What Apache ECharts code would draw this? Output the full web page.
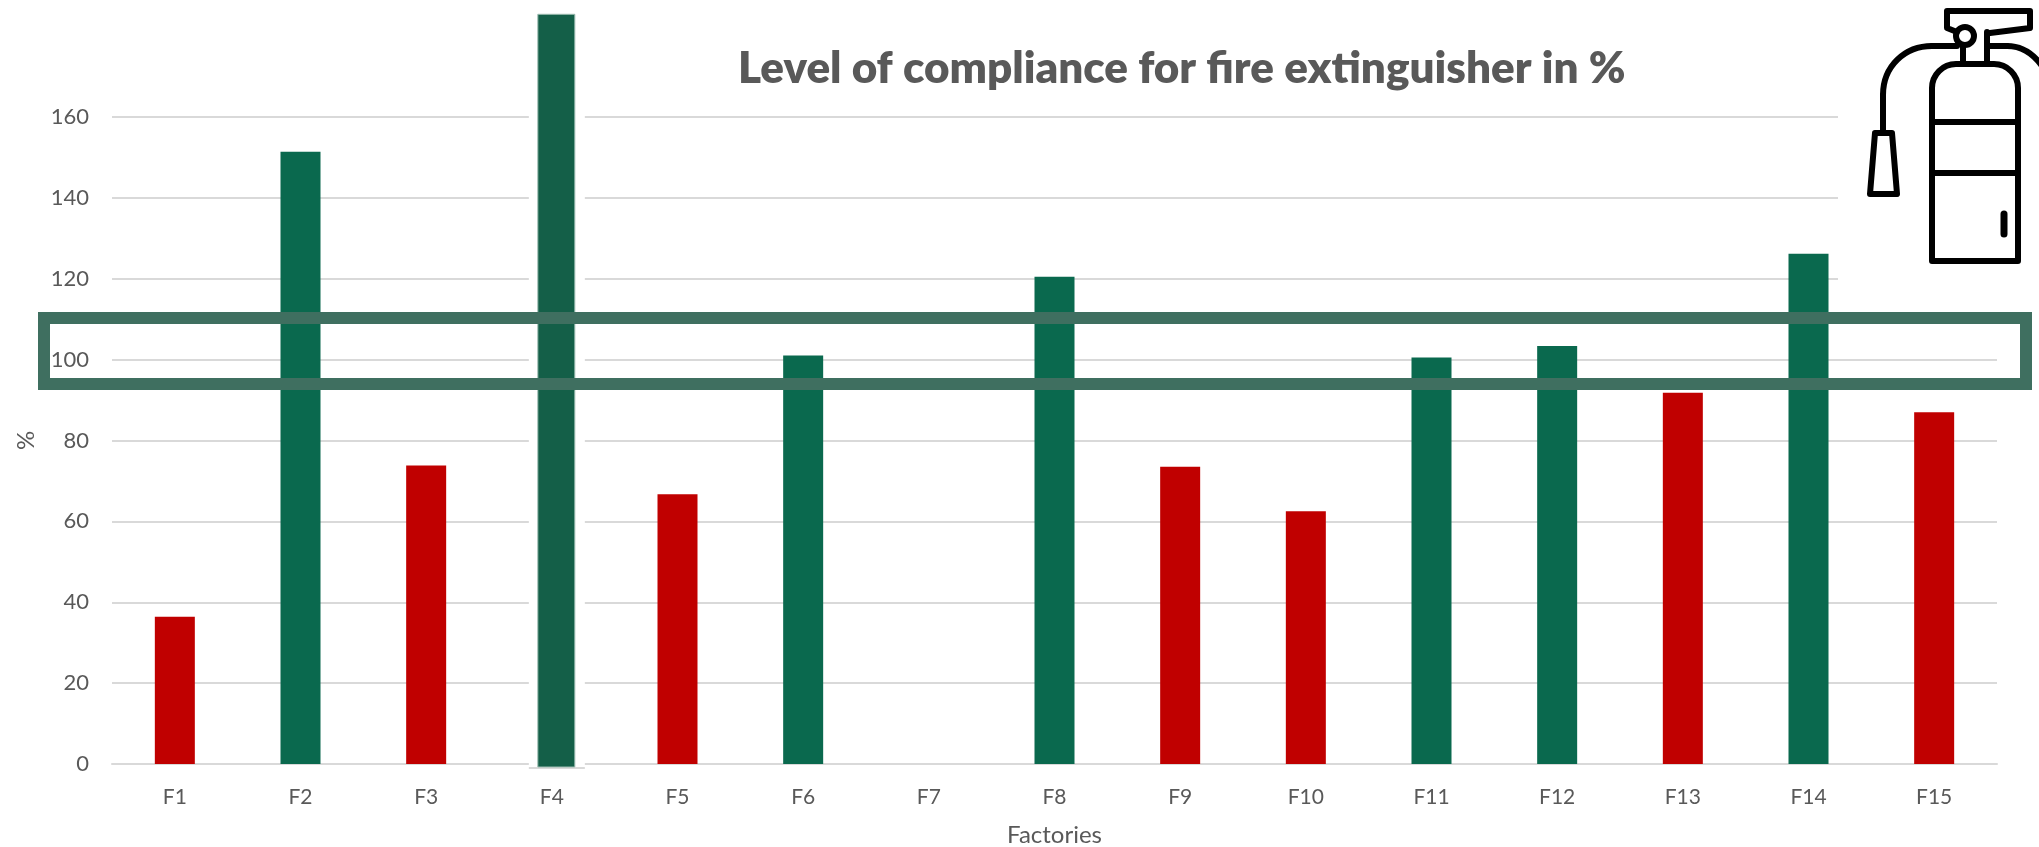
<!DOCTYPE html>
<html>
<head>
<meta charset="utf-8">
<style>html,body{margin:0;padding:0;background:#fff}#c{width:2039px;height:847px}</style>
<script src="https://cdn.jsdelivr.net/npm/echarts@6/dist/echarts.min.js"></script>
</head>
<body>
<div id="c"></div>
<script>
const categories = ['F1','F2','F3','F4','F5','F6','F7','F8','F9','F10','F11','F12','F13','F14','F15'];
const compliance = [36.4,151.4,73.8,185.4,66.7,101,null,120.5,73.5,62.5,100.5,103.4,91.8,126.2,87];
const highlighted = 'F4';
const yTicks = {min:0,max:160,interval:20};
const GREEN='#0A694E', RED='#C00000', DARK='#145F48', GRID='#D9D9D9', TEXT='#595959', FRAME='#3F6F60';
const FONT='Lato';
const hiIdx = categories.indexOf(highlighted);
const chart = echarts.init(document.getElementById('c'),null,{renderer:'canvas',width:2039,height:847});
const k='#000';
const sw={stroke:k,lineWidth:6,fill:'none',lineCap:'round',lineJoin:'round'};
const icon=[
 {type:'rect',shape:{x:1838,y:0,width:201,height:300},style:{fill:'#fff'}},
 {type:'rect',shape:{x:1932,y:64,width:86,height:197,r:[24,24,0,0]},style:sw},
 {type:'line',shape:{x1:1932,y1:122,x2:2018,y2:122},style:sw},
 {type:'line',shape:{x1:1932,y1:173,x2:2018,y2:173},style:sw},
 {type:'line',shape:{x1:2004,y1:214,x2:2004,y2:234},style:{...sw,lineWidth:7}},
 {type:'line',shape:{x1:1963,y1:46,x2:1963,y2:63},style:sw},
 {type:'line',shape:{x1:1987,y1:32,x2:1987,y2:63},style:sw},
 {type:'circle',shape:{cx:1965,cy:36,r:9},style:{stroke:k,lineWidth:6,fill:'#fff'}},
 {type:'polyline',shape:{points:[[1957,32],[1947,28],[1947,11],[2030,11],[2030,28],[1990,33]]},style:sw},
 {type:'line',shape:{x1:1957,y1:46,x2:1932,y2:46},style:sw},
 {type:'bezierCurve',shape:{x1:1932,y1:46,cpx1:1905,cpy1:46,cpx2:1883,cpy2:66,x2:1883,y2:95},style:sw},
 {type:'line',shape:{x1:1883,y1:95,x2:1883,y2:133},style:sw},
 {type:'polyline',shape:{points:[[1875,133],[1892,133],[1897,194],[1870,194],[1875,133]]},style:sw},
 {type:'line',shape:{x1:1988,y1:46,x2:2007,y2:46},style:sw},
 {type:'bezierCurve',shape:{x1:2007,y1:46,cpx1:2020,cpy1:46,cpx2:2032,cpy2:52,x2:2042,y2:66},style:sw}
].map(e=>({...e,z:20}));
chart.setOption({
 animation:false,
 backgroundColor:'#fff',
 title:{text:'Level of compliance for fire extinguisher in %',left:733,top:37,
   textStyle:{fontFamily:FONT,fontWeight:800,fontSize:44,color:TEXT,lineHeight:54},z:30},
 grid:{left:112,top:117,width:1885,height:647,outerBoundsMode:'none'},
 xAxis:{type:'category',data:categories,
   name:'Factories',nameLocation:'middle',nameGap:59,
   nameTextStyle:{fontFamily:FONT,fontSize:24,color:TEXT},
   axisTick:{show:false},
   axisLine:{lineStyle:{color:GRID,width:2}},
   axisLabel:{fontFamily:FONT,fontSize:21,color:TEXT,margin:23,interval:0}},
 yAxis:{type:'value',min:yTicks.min,max:yTicks.max,interval:yTicks.interval,
   name:'%',nameLocation:'middle',nameGap:74,
   nameTextStyle:{fontFamily:FONT,fontSize:24,color:TEXT},
   axisLine:{show:false},axisTick:{show:false},
   axisLabel:{fontFamily:FONT,fontSize:22,color:TEXT,margin:23},
   splitLine:{lineStyle:{color:GRID,width:2}}},
 series:[
  {type:'bar',name:'Compliance',barWidth:40,z:3,
   data:compliance.map((v,i)=> i===hiIdx||v==null ? null :
      {value:v,itemStyle:{color:v>=100?GREEN:RED}})},
  {type:'custom',name:'Highlighted',z:5,clip:false,
   encode:{x:0,y:1},
   data:[[hiIdx,compliance[hiIdx]]],
   renderItem(params,api){
     const top=api.coord([api.value(0),api.value(1)]);
     const zero=api.coord([api.value(0),0]);
     const cx=top[0]+4.5;
     return {type:'group',children:[
       {type:'rect',shape:{x:cx-27.5,y:top[1],width:56,height:zero[1]-top[1]+5},style:{fill:'#fff'}},
       {type:'rect',shape:{x:cx-27.5,y:zero[1]+3,width:56,height:2},style:{fill:GRID}},
       {type:'rect',shape:{x:cx-18.5,y:top[1],width:37,height:zero[1]-top[1]+3},
         style:{fill:DARK,stroke:'#9DBDB2',lineWidth:1}}
     ]};
   }}
 ],
 graphic:{elements:[
  {type:'rect',z:15,shape:{x:44,y:318,width:1982,height:66},style:{fill:'none',stroke:FRAME,lineWidth:12}},
  ...icon
 ]}
});
</script>
</body>
</html>
